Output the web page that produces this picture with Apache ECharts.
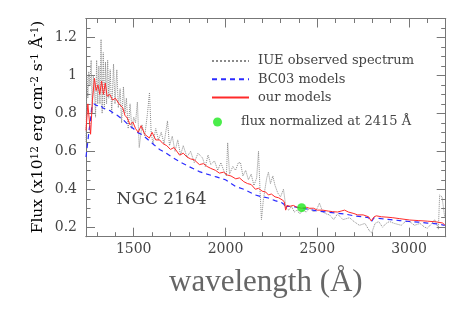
<!DOCTYPE html>
<html>
<head>
<meta charset="utf-8">
<script src="https://cdn.jsdelivr.net/npm/echarts@6/dist/echarts.min.js"></script>
<style>html,body{margin:0;padding:0;background:#fff}#c{width:463px;height:313px}</style>
</head>
<body>
<div id="c"></div>
<script>
// ---- data ----
var iueWave = [1240,1245,1250,1255,1262,1268,1274,1280,1286,1292,1298,1304,1310,1316,1322,1328,1334,1340,1346,1352,1358,1364,1372,1380,1390,1398,1408,1416,1426,1434,1444,1452,1460,1470,1480,1490,1500,1510,1520,1530,1545,1560,1575,1586,1595,1605,1620,1635,1650,1665,1684,1695,1710,1725,1740,1755,1770,1790,1810,1830,1850,1875,1890,1905,1920,1940,1958,1975,1990,2005,2012,2022,2040,2055,2070,2082,2095,2110,2125,2140,2155,2170,2180,2188,2196,2206,2215,2225,2234,2245,2258,2270,2285,2300,2316,2330,2345,2360,2375,2390,2405,2420,2440,2460,2480,2500,2512,2530,2550,2567,2590,2610,2640,2676,2700,2730,2760,2785,2797,2815,2835,2856,2875,2894,2920,2958,2980,3003,3030,3060,3085,3100,3120,3140,3150,3160,3167,3180,3195];
var iueFlux = [0.65,1.0,0.88,1.02,0.95,1.08,0.80,1.0,0.93,0.78,1.08,0.85,1.05,0.85,1.19,0.80,1.12,0.82,1.07,0.85,1.08,0.88,1.03,0.80,1.06,0.85,1.03,0.83,0.93,0.75,0.94,0.80,0.88,0.72,0.85,0.72,0.78,0.75,0.86,0.62,0.74,0.68,0.80,0.91,0.70,0.64,0.72,0.66,0.70,0.64,0.76,0.63,0.68,0.60,0.66,0.58,0.63,0.57,0.60,0.54,0.59,0.565,0.52,0.58,0.53,0.55,0.50,0.54,0.50,0.47,0.645,0.48,0.52,0.50,0.54,0.54,0.47,0.50,0.45,0.48,0.42,0.46,0.60,0.40,0.24,0.34,0.40,0.46,0.49,0.43,0.47,0.42,0.38,0.36,0.40,0.30,0.29,0.31,0.28,0.29,0.27,0.29,0.28,0.30,0.28,0.30,0.327,0.28,0.27,0.265,0.24,0.27,0.24,0.25,0.23,0.21,0.22,0.18,0.17,0.22,0.23,0.20,0.22,0.23,0.22,0.21,0.23,0.23,0.21,0.22,0.20,0.195,0.215,0.24,0.22,0.19,0.37,0.36,0.25];

var bc03Wave = [1240,1250,1258,1265,1272,1285,1300,1317,1330,1350,1370,1390,1410,1430,1444,1470,1498,1520,1550,1580,1610,1641,1670,1700,1750,1800,1858,1900,1950,2000,2056,2100,2163,2200,2234,2270,2305,2320,2327,2335,2360,2390,2415,2450,2500,2550,2600,2650,2700,2750,2780,2794,2810,2850,2900,2950,3000,3050,3100,3150,3195];
var bc03Flux = [0.57,0.56,0.72,0.77,0.84,0.85,0.84,0.845,0.83,0.82,0.815,0.80,0.79,0.775,0.765,0.74,0.72,0.70,0.685,0.66,0.635,0.61,0.595,0.575,0.545,0.52,0.493,0.48,0.465,0.45,0.414,0.40,0.37,0.36,0.354,0.34,0.33,0.32,0.297,0.31,0.31,0.305,0.30,0.295,0.285,0.28,0.275,0.27,0.26,0.255,0.25,0.228,0.25,0.245,0.24,0.235,0.23,0.227,0.222,0.218,0.21];

var ourWave = [1240,1250,1258,1265,1275,1286,1295,1305,1315,1325,1335,1345,1355,1370,1385,1400,1420,1440,1452,1465,1480,1495,1510,1525,1540,1560,1585,1600,1620,1641,1660,1680,1700,1720,1750,1770,1790,1810,1830,1858,1880,1900,1920,1945,1967,1990,2010,2030,2056,2076,2100,2120,2140,2163,2180,2200,2220,2234,2250,2270,2290,2309,2320,2328,2335,2350,2370,2390,2415,2440,2458,2480,2500,2530,2560,2584,2610,2630,2649,2670,2700,2720,2750,2780,2794,2810,2822,2850,2880,2912,2950,3004,3050,3100,3150,3183,3195];
var ourFlux = [0.71,0.85,0.86,0.69,0.87,0.985,0.92,0.95,0.90,0.97,0.90,0.96,0.89,0.90,0.87,0.88,0.85,0.83,0.79,0.775,0.74,0.755,0.72,0.70,0.735,0.69,0.67,0.70,0.66,0.66,0.64,0.63,0.61,0.62,0.58,0.59,0.57,0.56,0.555,0.53,0.535,0.52,0.51,0.50,0.485,0.49,0.475,0.47,0.455,0.46,0.44,0.43,0.425,0.40,0.405,0.39,0.385,0.37,0.375,0.36,0.355,0.344,0.335,0.29,0.315,0.31,0.315,0.305,0.30,0.305,0.30,0.30,0.29,0.29,0.285,0.282,0.28,0.285,0.29,0.28,0.272,0.265,0.265,0.255,0.233,0.255,0.26,0.255,0.253,0.25,0.245,0.238,0.235,0.232,0.228,0.222,0.212];

var normWave = [2415];
var normFlux = [0.303];

var xMajor = [1500,2000,2500,3000];
var xMinor = [1300,1400,1600,1700,1800,1900,2100,2200,2300,2400,2600,2700,2800,2900,3100];
var yMajor = [0.2,0.4,0.6,0.8,1,1.2];
var yMinor = [0.15,0.25,0.3,0.35,0.45,0.5,0.55,0.65,0.7,0.75,0.85,0.9,0.95,1.05,1.1,1.15,1.25,1.3];

function pairs(xs, ys){ return xs.map(function(x,i){ return [x, ys[i]]; }); }

var AX = '#777';
var TXT = '#444';
var SERIF = 'DejaVu Serif';
var XMIN = 1240, XMAX = 3200, YMIN = 0.15, YMAX = 1.3;

function xAx(pos, ticks, len, labels){
  return {
    type:'value', position:pos, min:XMIN, max:XMAX,
    axisLine:{show:true, lineStyle:{color:AX, width:1}},
    axisTick:{show:true, inside:true, length:len, customValues:ticks, lineStyle:{color:AX, width:1}},
    axisLabel:{show:labels, customValues:ticks, margin:6, fontFamily:SERIF, fontSize:14, color:TXT,
      formatter:function(v){ return String(Math.round(v)); }},
    splitLine:{show:false}
  };
}
function yAx(pos, ticks, len, labels){
  return {
    type:'value', position:pos, min:YMIN, max:YMAX,
    axisLine:{show:true, lineStyle:{color:AX, width:1}},
    axisTick:{show:true, inside:true, length:len, customValues:ticks, lineStyle:{color:AX, width:1}},
    axisLabel:{show:labels, customValues:ticks, margin:9, fontFamily:SERIF, fontSize:14, color:TXT,
      formatter:function(v){ return String(+(+v).toFixed(2)); }},
    splitLine:{show:false}
  };
}

var xa0 = xAx('bottom', xMajor, 9, true);
xa0.name = 'wavelength (\u00c5)';
xa0.nameLocation = 'middle';
xa0.nameGap = 31;
xa0.nameTextStyle = {fontFamily:'Liberation Serif', fontSize:31, color:'#666'};

var chart = echarts.init(document.getElementById('c'), null, {renderer:'canvas'});
chart.setOption({
  animation:false,
  backgroundColor:'#fff',
  grid:{left:86, top:18.5, right:17.3, bottom:76.3, containLabel:false},
  xAxis:[xa0, xAx('bottom', xMinor, 4.5, false), xAx('top', xMajor, 9, false), xAx('top', xMinor, 4.5, false)],
  yAxis:[yAx('left', yMajor, 9, true), yAx('left', yMinor, 4.5, false), yAx('right', yMajor, 9, false), yAx('right', yMinor, 4.5, false)],
  legend:[{
    data:['IUE observed spectrum','BC03 models','our models'],
    orient:'vertical', left:206, top:49.5, itemWidth:37, itemHeight:14, itemGap:5.3,
    itemStyle:{opacity:0},
    textStyle:{fontFamily:SERIF, fontSize:13, color:TXT, padding:[0,0,0,4]},
    selectedMode:false
  },{
    data:['flux normalized at 2415 \u00c5'],
    orient:'vertical', left:208, top:110.5, itemWidth:9, itemHeight:9,
    textStyle:{fontFamily:SERIF, fontSize:13, color:TXT, padding:[0,0,0,14]},
    selectedMode:false
  }],
  series:[
    {name:'IUE observed spectrum', type:'line', data:pairs(iueWave, iueFlux), symbol:'none',
      lineStyle:{color:'#8a8a8a', width:1, type:'dotted'}, itemStyle:{color:'#8a8a8a'}, z:2},
    {name:'BC03 models', type:'line', data:pairs(bc03Wave, bc03Flux), symbol:'none',
      lineStyle:{color:'#2b2bff', width:1.2, type:[5,4]}, itemStyle:{color:'#2b2bff'}, z:3},
    {name:'our models', type:'line', data:pairs(ourWave, ourFlux), symbol:'none',
      lineStyle:{color:'#ff2a2a', width:1}, itemStyle:{color:'#ff2a2a'}, z:4},
    {name:'flux normalized at 2415 \u00c5', type:'scatter', data:pairs(normWave, normFlux), symbol:'circle', symbolSize:9,
      itemStyle:{color:'#1ee81e'}, z:5}
  ],
  graphic:[
    {type:'text', x:38, y:127, rotation:Math.PI/2,
      style:{text:'{n|Flux (x10}{s|12}{n| erg cm}{s|-2}{n| s}{s|-1}{n| \u00c5}{s|-1}{n|)}',
        align:'center', verticalAlign:'middle',
        rich:{
          n:{fontFamily:SERIF, fontSize:15.5, color:TXT, lineHeight:16, padding:[6,0,0,0], verticalAlign:'bottom'},
          s:{fontFamily:SERIF, fontSize:10.5, color:TXT, lineHeight:11, verticalAlign:'top'}
        }}},
    {type:'text', left:116.5, top:191,
      style:{text:'NGC 2164', fontFamily:SERIF, fontSize:17, fill:TXT}}
  ]
});
</script>
</body>
</html>
